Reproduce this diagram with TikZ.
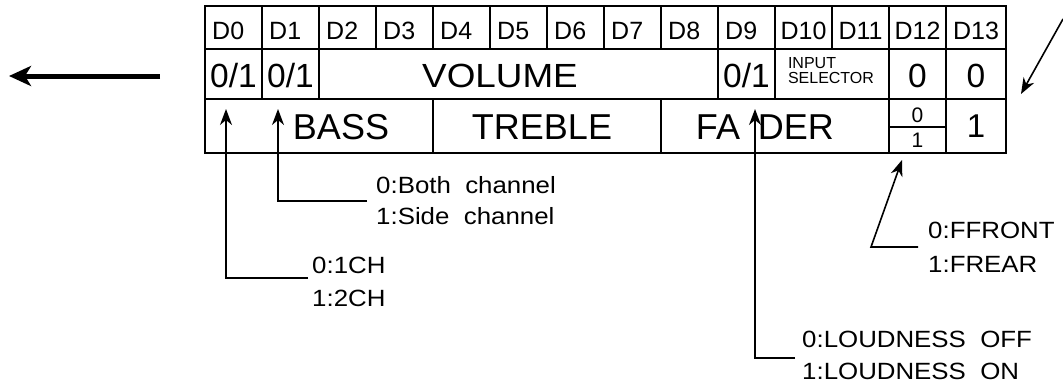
\documentclass[tikz,border=0pt]{standalone}
\usepackage{fontspec}
\setmainfont{Liberation Sans}[FakeStretch=1.1]
\newfontfamily\regfont{Liberation Sans}
\usetikzlibrary{arrows.meta}
\newcommand{\fsz}[1]{\fontsize{#1}{#1}\selectfont}

\begin{document}
\begin{tikzpicture}[x=1pt,y=-1pt,
	every node/.style={inner sep=0pt},
	grid/.style={line width=1.8pt},
	bitname/.style={anchor=base west,font=\regfont\fsz{25}},
	bitval/.style={anchor=base,font=\regfont\fsz{33.5}},
	field/.style={anchor=base,font=\regfont\fsz{36}},
	note/.style={anchor=base west,font=\fsz{23.5}},
	callout/.style={line width=1.6pt,-{Stealth[length=16pt,width=12pt,inset=5pt]}}]
	\useasboundingbox (0,0) rectangle (1063,388);
	% register frame
	\draw[grid,line width=2.2pt] (205,6) rectangle (1006,153);
	\draw[grid] (205,49) -- (1006,49) (205,99) -- (1006,99);
	\foreach \i in {1,...,13} \draw[grid] (205+57*\i,6) -- (205+57*\i,49); % bit columns
	\foreach \i in {1,2,9,10,12,13} \draw[grid] (205+57*\i,49) -- (205+57*\i,99);
	\foreach \i in {4,8,12,13} \draw[grid] (205+57*\i,99) -- (205+57*\i,153);
	\draw[grid] (889,127) -- (946,127);
	% bit names
	\foreach \i in {0,...,9} \node[bitname] (d\i) at (212+57*\i,39) {D\i};
	\foreach \i in {10,11,12} \node[bitname,anchor=base] (d\i) at (233.5+57*\i,39) {D\i};
	\node[bitname,anchor=base] (d13) at (976,39) {D13};
	% second row
	\node[bitval] (sel0) at (233.5,87) {0/1};
	\node[bitval] (sel1) at (290.5,87) {0/1};
	\node[bitval,font=\fsz{33.5}] (volume) at (500,87) {VOLUME};
	\node[bitval] (loud) at (746.5,87) {0/1};
	\node[anchor=north,align=left,font=\regfont\fsz{16}] (input) at (831,57) {INPUT\\[-1pt]SELECTOR};
	\node[bitval] (v12) at (917.5,87) {0};
	\node[bitval] (v13) at (976,87) {0};
	% third row
	\node[field] (bass) at (341,139) {BASS};
	\node[field] (treble) at (542,139) {TREBLE};
	\node[field] (fader) at (765,139) {FA\hspace{18pt}DER};
	\node[anchor=base,font=\regfont\fsz{21}] (fr0) at (917.5,122) {0};
	\node[anchor=base,font=\regfont\fsz{21}] (fr1) at (917.5,147) {1};
	\node[anchor=base,font=\regfont\fsz{33}] (w13) at (976,137) {1};
	% notes
	\node[note] (both) at (376,193) {0:Both~~channel};
	\node[note] (side) at (376,224) {1:Side~~channel};
	\node[note] (ch1) at (312,273) {0:1CH};
	\node[note] (ch2) at (312,306) {1:2CH};
	\node[note] (front) at (928,238) {0:FFRONT};
	\node[note] (rear) at (928,272) {1:FREAR};
	\node[note] (loff) at (802,347) {0:LOUDNESS~~OFF};
	\node[note] (lon) at (802,379) {1:LOUDNESS~~ON};
	% callout points
	\coordinate (tipA) at (226,109);
	\coordinate (bendA) at (226,278);
	\coordinate (endA) at (308,278);
	\coordinate (tipB) at (278,109);
	\coordinate (bendB) at (278,201);
	\coordinate (endB) at (367,201);
	\coordinate (tipC) at (755,109);
	\coordinate (bendC) at (755,358);
	\coordinate (endC) at (795,358);
	\coordinate (tipD) at (902,160);
	\coordinate (bendD) at (871,247);
	\coordinate (endD) at (918,247);
	\draw[callout] (endA) -- (bendA) -- (tipA);
	\draw[callout] (endB) -- (bendB) -- (tipB);
	\draw[callout] (endC) -- (bendC) -- (tipC);
	\draw[callout] (endD) -- (bendD) -- (tipD);
	% direction arrows
	\coordinate (inR) at (1063,19);
	\coordinate (inTip) at (1021,94);
	\draw[callout] (inR) -- (inTip);
	\coordinate (outS) at (160,76);
	\coordinate (outTip) at (9,76);
	\draw[line width=5pt,-{Stealth[length=22pt,width=20pt,inset=6pt]}] (outS) -- (outTip);
\end{tikzpicture}
\end{document}
